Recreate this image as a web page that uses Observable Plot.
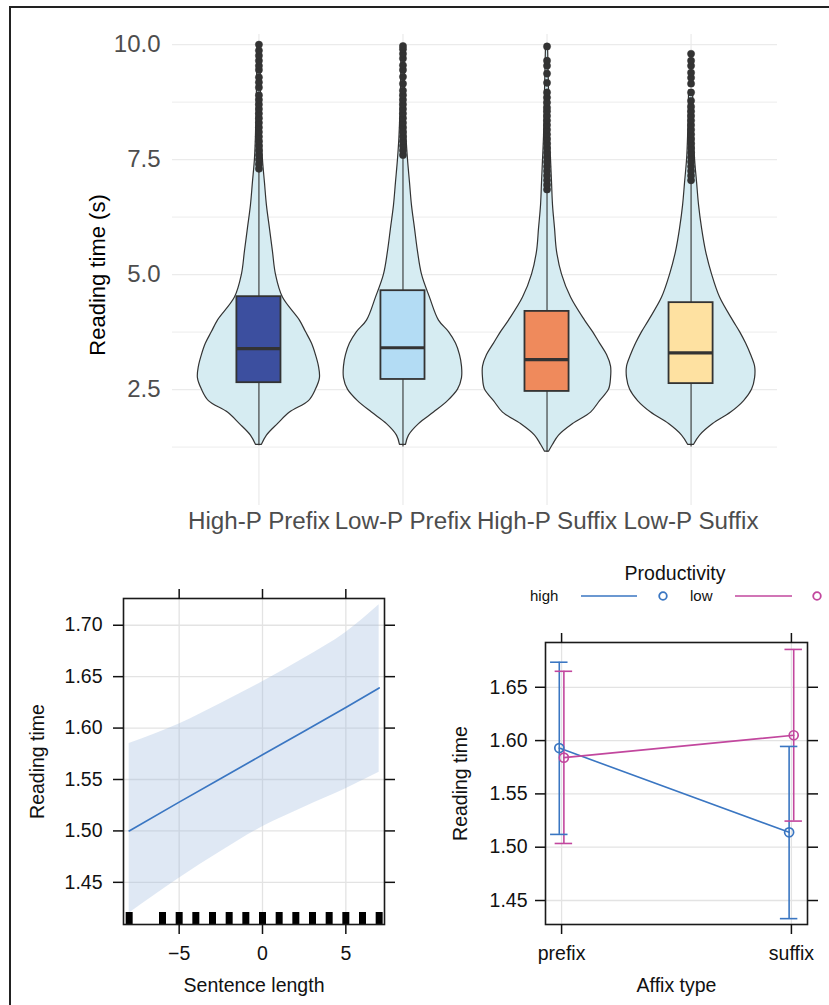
<!DOCTYPE html>
<html><head><meta charset="utf-8">
<script src="https://cdn.jsdelivr.net/npm/d3@7"></script>
<script src="https://cdn.jsdelivr.net/npm/@observablehq/plot@0.6"></script>
<style>
html,body{margin:0;padding:0;background:#fff;width:829px;height:1005px;overflow:hidden;font-family:"Liberation Sans",Arial,sans-serif;}
#border{position:absolute;left:9px;top:6px;width:900px;height:1100px;border:2px solid #222;box-sizing:border-box;}
.panel{position:absolute;}
.panel svg{overflow:visible;}
</style></head><body>
<div id="border"></div>
<div id="top" class="panel" style="left:0;top:0"></div>
<div id="bl" class="panel" style="left:0;top:545px"></div>
<div id="br" class="panel" style="left:430px;top:545px"></div>
<div id="legtitle" class="panel" style="left:575px;top:561px;width:200px;text-align:center;font-size:19.5px;line-height:24px;color:#111"></div>
<div id="legrow" class="panel" style="left:520px;top:586px"></div>
<script>
// ---------- Top panel data (violin + box plots) ----------
const categories = ["High-P Prefix", "Low-P Prefix", "High-P Suffix", "Low-P Suffix"];
const boxColors = ["#3c4f9f", "#b3dcf4", "#ef8a5c", "#fee1a1"];
const q1 = [2.65, 2.72, 2.46, 2.63];
const medians = [3.39, 3.41, 3.15, 3.30];
const q3 = [4.52, 4.65, 4.20, 4.39];
const whiskerLow = [1.28, 1.25, 1.13, 1.25];
const whiskerHigh = [7.33, 7.55, 6.81, 7.03];
const yMajor = [2.5, 5.0, 7.5, 10.0];
const yMinor = [1.25, 3.75, 6.25, 8.75];

const violinLevels = [1.15, 1.3, 1.5, 1.75, 2.0, 2.25, 2.5, 2.75, 3.0, 3.25, 3.5, 3.75, 4.0, 4.5, 5.0, 5.5, 6.0, 6.5, 7.0, 7.5, 8.0, 9.0, 10.0];
const densityHighPrefix = [null, 3, 8, 19, 31, 50, 57, 61, 60, 57, 53, 47, 41, 24, 17, 14, 11, 8, 6, 4, 3, 2, 1.5];
const densityLowPrefix  = [null, 3, 6, 16, 31, 45, 55, 59, 59, 57, 53, 46, 36, 27, 19, 15, 12, 9, 7, 5, 3.5, 2, 1.5];
const densityHighSuffix = [2, 6, 12, 26, 44, 53, 62, 64, 64, 60, 53, 46, 38, 24, 15, 10, 8, 6, 5, 4, 3, 2, 1];
const densityLowSuffix  = [null, 3, 9, 22, 40, 53, 61, 64, 64, 60, 55, 49, 42, 29, 21, 15, 11, 8, 6, 4, 3, 2, null];

const outliersHighPrefix = [7.3,7.4,7.5,7.6,7.7,7.8,7.9,8.0,8.1,8.2,8.3,8.4,8.5,8.6,8.7,8.8,8.9,9.07,9.18,9.29,9.45,9.54,9.65,9.76,9.87,10.0];
const outliersLowPrefix  = [7.6,7.7,7.8,7.9,8.0,8.1,8.2,8.3,8.4,8.5,8.6,8.7,8.8,8.9,9.0,9.15,9.3,9.45,9.55,9.7,9.8,9.9,9.97];
const outliersHighSuffix = [6.85,6.95,7.05,7.15,7.25,7.35,7.45,7.55,7.65,7.75,7.85,7.95,8.05,8.15,8.25,8.35,8.45,8.55,8.63,8.74,8.85,8.96,9.17,9.37,9.54,9.65,9.96];
const outliersLowSuffix  = [7.05,7.15,7.25,7.35,7.45,7.55,7.65,7.75,7.85,7.95,8.05,8.15,8.25,8.35,8.45,8.55,8.65,8.78,8.96,9.15,9.28,9.39,9.54,9.65,9.8];

// ---------- Bottom-left data (sentence length effect) ----------
const sentenceLength = [-8, -5, -2.5, 0, 2.5, 5, 7];
const fitSentence    = [1.500, 1.528, 1.551, 1.574, 1.597, 1.620, 1.639];
const upperSentence  = [1.585, 1.604, 1.624, 1.645, 1.668, 1.693, 1.720];
const lowerSentence  = [1.420, 1.454, 1.480, 1.504, 1.523, 1.541, 1.557];
const rugSentence    = [-8, -6, -5, -4, -3, -2, -1, 0, 1, 2, 3, 4, 5, 6, 7];
const xTicksSentence = [-5, 0, 5];
const yTicksEffect   = [1.45, 1.50, 1.55, 1.60, 1.65, 1.70];

// ---------- Bottom-right data (affix type x productivity) ----------
const affixTypes = ["prefix", "suffix"];
const productivity = ["high", "low"];
const productivityColors = ["#3a76c2", "#c2479e"];
const fitHigh   = [1.593, 1.514];
const lowerHigh = [1.512, 1.433];
const upperHigh = [1.6735, 1.5945];
const fitLow    = [1.584, 1.605];
const lowerLow  = [1.5035, 1.5245];
const upperLow  = [1.665, 1.6855];
const yTicksAffix = [1.45, 1.50, 1.55, 1.60, 1.65];

const FONT = '"Liberation Sans", Arial, Helvetica, sans-serif';

// ---------- Build top panel ----------
const violinWidthScale = 1 / 144;
const densities = [densityHighPrefix, densityLowPrefix, densityHighSuffix, densityLowSuffix];
const violinRows = [];
densities.forEach((dens, i) => violinLevels.forEach((lv, j) => {
  if (dens[j] != null) violinRows.push({cat: categories[i], pos: i + 1, y: lv, w: dens[j] * violinWidthScale});
}));
const boxRows = categories.map((c, i) => ({cat: c, pos: i + 1, q1: q1[i], med: medians[i], q3: q3[i], lo: whiskerLow[i], hi: whiskerHigh[i], fill: boxColors[i]}));
const outlierRows = [];
[outliersHighPrefix, outliersLowPrefix, outliersHighSuffix, outliersLowSuffix].forEach((arr, i) =>
  arr.forEach(v => outlierRows.push({pos: i + 1, y: v})));
const boxHalf = 0.153;

const topPlot = Plot.plot({
  width: 829, height: 545,
  marginLeft: 172, marginRight: 52, marginTop: 34, marginBottom: 40,
  x: {domain: [0.4, 4.6]},
  y: {domain: [-0.02, 10.22]},
  style: {fontFamily: FONT, background: "transparent", color: "#4d4d4d"},
  marks: [
    Plot.gridY(yMinor, {stroke: "#ececec", strokeOpacity: 1, strokeWidth: 1}),
    Plot.gridY(yMajor, {stroke: "#ebebeb", strokeOpacity: 1, strokeWidth: 1.2}),
    Plot.gridX([1, 2, 3, 4], {stroke: "#ebebeb", strokeOpacity: 1, strokeWidth: 1.2}),
    Plot.areaX(violinRows, {y: "y", x1: d => d.pos - d.w, x2: d => d.pos + d.w, z: "cat",
      fill: "#d6ecf2", stroke: "#333", strokeWidth: 1.2, curve: "catmull-rom"}),
    Plot.ruleX(boxRows, {x: "pos", y1: "lo", y2: "q1", stroke: "#333", strokeWidth: 1.1}),
    Plot.ruleX(boxRows, {x: "pos", y1: "q3", y2: "hi", stroke: "#333", strokeWidth: 1.1}),
    Plot.rect(boxRows, {x1: d => d.pos - boxHalf, x2: d => d.pos + boxHalf, y1: "q1", y2: "q3",
      fill: d => d.fill, stroke: "#333", strokeWidth: 1.8}),
    Plot.ruleY(boxRows, {y: "med", x1: d => d.pos - boxHalf, x2: d => d.pos + boxHalf, stroke: "#333", strokeWidth: 3.2}),
    Plot.dot(outlierRows, {x: "pos", y: "y", r: 3.6, fill: "#333", stroke: "#333", strokeWidth: 0.5}),
    Plot.axisY({ticks: yMajor, tickFormat: d3.format(".1f"), tickSize: 0, tickPadding: 12, fontSize: 24, label: null, color: "#4d4d4d"}),
    Plot.axisX({ticks: [1, 2, 3, 4], tickFormat: d => categories[d - 1], tickSize: 0, tickPadding: 6, fontSize: 24.2, label: null, color: "#4d4d4d"}),
    Plot.text(["Reading time (s)"], {frameAnchor: "left", dx: -75, dy: 5, rotate: -90, textAnchor: "middle", lineAnchor: "middle", fontSize: 22, fill: "#000"})
  ]
});
document.getElementById("top").appendChild(topPlot);

// ---------- Build bottom-left panel ----------
const sentenceRows = sentenceLength.map((x, i) => ({x, fit: fitSentence[i], lo: lowerSentence[i], hi: upperSentence[i]}));
const blPlot = Plot.plot({
  width: 420, height: 460,
  marginLeft: 123, marginRight: 36, marginTop: 53, marginBottom: 81,
  x: {domain: [-8.34, 7.32]},
  y: {domain: [1.409, 1.726]},
  style: {fontFamily: FONT, background: "transparent", color: "#111"},
  marks: [
    Plot.gridX(xTicksSentence, {stroke: "#e3e3e3", strokeOpacity: 1, strokeWidth: 1.3}),
    Plot.gridY(yTicksEffect, {stroke: "#e3e3e3", strokeOpacity: 1, strokeWidth: 1.3}),
    Plot.areaY(sentenceRows, {x: "x", y1: "lo", y2: "hi", fill: "#9db6de", fillOpacity: 0.32, curve: "monotone-x"}),
    Plot.line(sentenceRows, {x: "x", y: "fit", stroke: "#3a76c2", strokeWidth: 1.7}),
    Plot.tickX(rugSentence, {x: d => d, insetTop: 314, stroke: "#000", strokeWidth: 7}),
    Plot.frame({stroke: "#1a1a1a", strokeWidth: 1.6}),
    Plot.axisX({anchor: "bottom", ticks: xTicksSentence, tickSize: 10, tickPadding: 12, fontSize: 19.5, strokeWidth: 1.5, label: null}),
    Plot.axisX({anchor: "top", ticks: xTicksSentence, tickSize: 10, tickFormat: () => "", strokeWidth: 1.5, label: null}),
    Plot.axisY({anchor: "left", ticks: yTicksEffect, tickSize: 10, tickPadding: 11, tickFormat: d3.format(".2f"), fontSize: 19.5, strokeWidth: 1.5, label: null}),
    Plot.axisY({anchor: "right", ticks: yTicksEffect, tickSize: 10, tickFormat: () => "", strokeWidth: 1.5, label: null}),
    Plot.text(["Sentence length"], {frameAnchor: "bottom", dy: 61, textAnchor: "middle", lineAnchor: "middle", fontSize: 19.5, fill: "#111"}),
    Plot.text(["Reading time"], {frameAnchor: "left", dx: -86, rotate: -90, textAnchor: "middle", lineAnchor: "middle", fontSize: 19.5, fill: "#111"})
  ]
});
document.getElementById("bl").appendChild(blPlot);

// ---------- Build bottom-right panel ----------
const dodge = 0.01, capHalf = 0.038;
const effectRows = [];
affixTypes.forEach((a, i) => {
  effectRows.push({affix: a, prod: "high", pos: i + 1 - dodge, fit: fitHigh[i], lo: lowerHigh[i], hi: upperHigh[i]});
  effectRows.push({affix: a, prod: "low", pos: i + 1 + dodge, fit: fitLow[i], lo: lowerLow[i], hi: upperLow[i]});
});
const brPlot = Plot.plot({
  width: 399, height: 460,
  marginLeft: 115, marginRight: 22, marginTop: 97, marginBottom: 81,
  x: {domain: [0.93, 2.07]},
  y: {domain: [1.4275, 1.692]},
  color: {domain: productivity, range: productivityColors},
  style: {fontFamily: FONT, background: "transparent", color: "#111"},
  marks: [
    Plot.gridX([1, 2], {stroke: "#e3e3e3", strokeOpacity: 1, strokeWidth: 1.3}),
    Plot.gridY(yTicksAffix, {stroke: "#e3e3e3", strokeOpacity: 1, strokeWidth: 1.3}),
    Plot.line(effectRows, {x: "pos", y: "fit", z: "prod", stroke: "prod", strokeWidth: 1.6}),
    Plot.ruleX(effectRows, {x: "pos", y1: "lo", y2: "hi", stroke: "prod", strokeWidth: 1.6}),
    Plot.ruleY(effectRows, {y: "lo", x1: d => d.pos - capHalf, x2: d => d.pos + capHalf, stroke: "prod", strokeWidth: 1.6}),
    Plot.ruleY(effectRows, {y: "hi", x1: d => d.pos - capHalf, x2: d => d.pos + capHalf, stroke: "prod", strokeWidth: 1.6}),
    Plot.dot(effectRows, {x: "pos", y: "fit", r: 4.5, stroke: "prod", strokeWidth: 1.7, fill: "none"}),
    Plot.frame({stroke: "#1a1a1a", strokeWidth: 1.6}),
    Plot.axisX({anchor: "bottom", ticks: [1, 2], tickFormat: d => affixTypes[d - 1], tickSize: 10, tickPadding: 12, fontSize: 19.5, strokeWidth: 1.5, label: null}),
    Plot.axisX({anchor: "top", ticks: [1, 2], tickSize: 10, tickFormat: () => "", strokeWidth: 1.5, label: null}),
    Plot.axisY({anchor: "left", ticks: yTicksAffix, tickSize: 10, tickPadding: 8, tickFormat: d3.format(".2f"), fontSize: 19.5, strokeWidth: 1.5, label: null}),
    Plot.axisY({anchor: "right", ticks: yTicksAffix, tickSize: 10, tickFormat: () => "", strokeWidth: 1.5, label: null}),
    Plot.text(["Affix type"], {frameAnchor: "bottom", dy: 61, textAnchor: "middle", lineAnchor: "middle", fontSize: 19.5, fill: "#111"}),
    Plot.text(["Reading time"], {frameAnchor: "left", dx: -85, rotate: -90, textAnchor: "middle", lineAnchor: "middle", fontSize: 19.5, fill: "#111"})
  ]
});
document.getElementById("br").appendChild(brPlot);

// ---------- Legend ----------
document.getElementById("legtitle").textContent = "Productivity";
const leg = d3.select("#legrow").append("svg").attr("width", 309).attr("height", 20).style("font-family", FONT);
const legText = [10, 170], legLine = [[61, 117], [215, 272]], legDot = [143, 297];
productivity.forEach((p, i) => {
  leg.append("text").attr("x", legText[i]).attr("y", 15).attr("font-size", 15).attr("fill", "#111").text(p);
  leg.append("line").attr("x1", legLine[i][0]).attr("x2", legLine[i][1]).attr("y1", 10).attr("y2", 10)
    .attr("stroke", productivityColors[i]).attr("stroke-width", 1.6);
  leg.append("circle").attr("cx", legDot[i]).attr("cy", 10).attr("r", 3.8).attr("fill", "none")
    .attr("stroke", productivityColors[i]).attr("stroke-width", 1.8);
});
</script></body></html>
